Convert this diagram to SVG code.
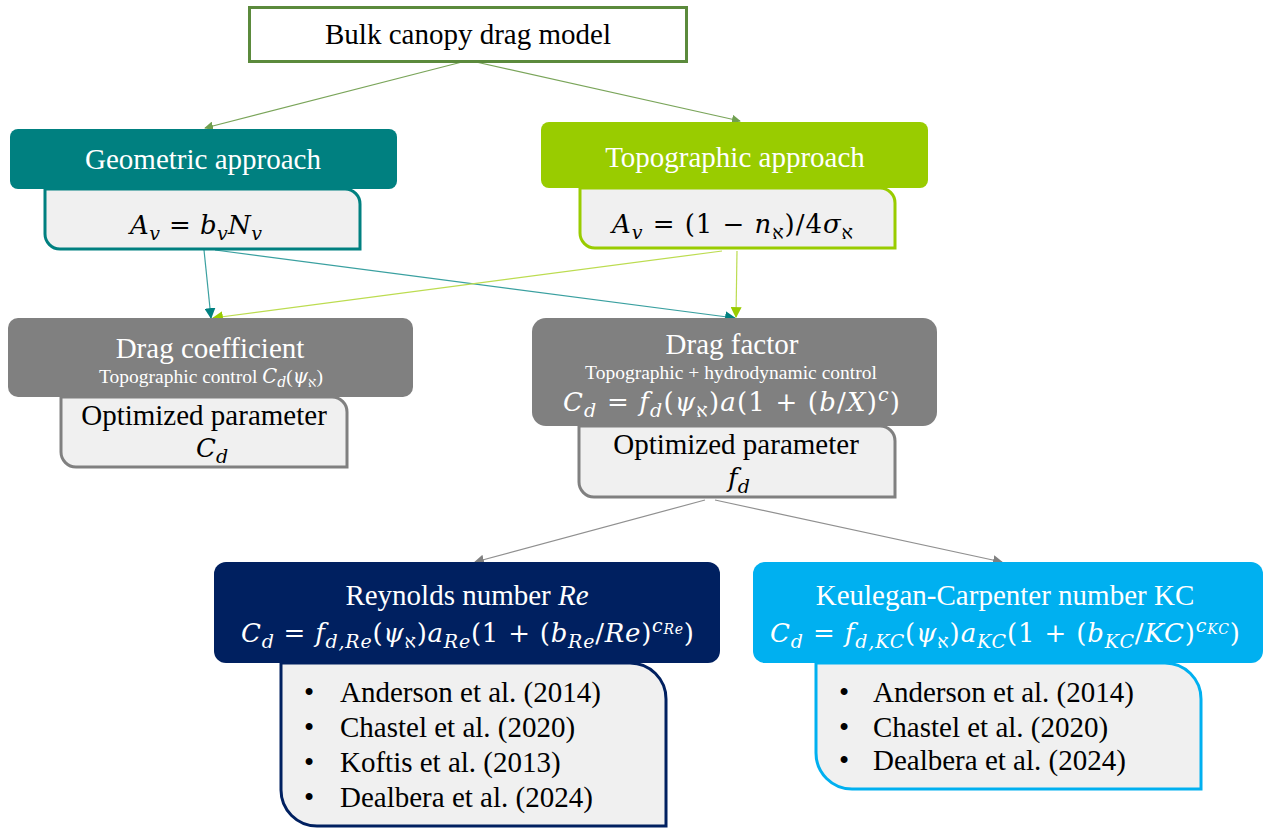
<svg xmlns="http://www.w3.org/2000/svg" width="1263" height="830" viewBox="0 0 1263 830">
<style>
text{font-family:"Liberation Serif","Times New Roman",serif;}
.t{font-size:29px;text-anchor:middle;}
.w{fill:#ffffff;}
.k{fill:#000000;}
.sm{font-size:19.5px;}
.i{font-style:italic;}
.m{font-family:"DejaVu Serif",serif;font-size:26px;}
.li{font-size:29px;fill:#000000;}
.c{fill:none;stroke-width:1.2;}
</style>
<defs>
<marker id="mg" viewBox="0 0 10 10" refX="9" refY="5" markerWidth="9" markerHeight="9" markerUnits="userSpaceOnUse" orient="auto"><path d="M0,0 L10,5 L0,10 Z" fill="#70a050"/></marker>
<marker id="mt" viewBox="0 0 10 10" refX="9" refY="5" markerWidth="11" markerHeight="11" markerUnits="userSpaceOnUse" orient="auto"><path d="M0,0 L10,5 L0,10 Z" fill="#008080"/></marker>
<marker id="ml" viewBox="0 0 10 10" refX="9" refY="5" markerWidth="11" markerHeight="11" markerUnits="userSpaceOnUse" orient="auto"><path d="M0,0 L10,5 L0,10 Z" fill="#99cc00"/></marker>
<marker id="mk" viewBox="0 0 10 10" refX="9" refY="5" markerWidth="10" markerHeight="10" markerUnits="userSpaceOnUse" orient="auto"><path d="M0,0 L10,5 L0,10 Z" fill="#808080"/></marker>
</defs>
<rect width="1263" height="830" fill="#ffffff"/>

<g id="connectors">
<line class="c" x1="462" y1="62" x2="205" y2="128" stroke="#7aa55a" marker-end="url(#mg)"/>
<line class="c" x1="476" y1="62" x2="740" y2="121" stroke="#7aa55a" marker-end="url(#mg)"/>
<line class="c" x1="204" y1="250" x2="211" y2="318" stroke="#3aa0a0" marker-end="url(#mt)"/>
<line class="c" x1="215" y1="250" x2="735" y2="318" stroke="#3aa0a0" marker-end="url(#mt)"/>
<line class="c" x1="722" y1="251" x2="213" y2="318" stroke="#bcdc50" marker-end="url(#ml)"/>
<line class="c" x1="737" y1="251" x2="736" y2="317" stroke="#bcdc50" marker-end="url(#ml)"/>
<line class="c" x1="705" y1="500" x2="475" y2="562" stroke="#909090" marker-end="url(#mk)"/>
<line class="c" x1="715" y1="500" x2="1002" y2="562" stroke="#909090" marker-end="url(#mk)"/>
</g>

<g id="bulk">
<rect x="249.5" y="7.5" width="437" height="54" fill="#ffffff" stroke="#5b8a3c" stroke-width="3"/>
<text class="t k" x="468" y="44">Bulk canopy drag model</text>
</g>

<g id="geometric">
<path d="M45,189 H345 A15,15 0 0 1 360,204 V249 H60 A15,15 0 0 1 45,234 Z" fill="#f0f0f0" stroke="#008080" stroke-width="3"/>
<rect x="10" y="129" width="387" height="60" rx="8" fill="#008080"/>
<text class="t w" x="203" y="169">Geometric approach</text>
<text class="m k" x="130" y="234" textLength="132" lengthAdjust="spacing"><tspan class="i">A</tspan><tspan class="i" font-size="19" dy="6">v</tspan><tspan dy="-6"> = </tspan><tspan class="i">b</tspan><tspan class="i" font-size="19" dy="6">v</tspan><tspan class="i" dy="-6">N</tspan><tspan class="i" font-size="19" dy="6">v</tspan></text>
</g>

<g id="topographic">
<path d="M580,188 H880 A15,15 0 0 1 895,203 V248 H595 A15,15 0 0 1 580,233 Z" fill="#f0f0f0" stroke="#99cc00" stroke-width="3"/>
<rect x="541" y="122" width="387" height="66" rx="8" fill="#99cc00"/>
<text class="t w" x="735" y="167">Topographic approach</text>
<text class="m k" x="612" y="233" textLength="241" lengthAdjust="spacing"><tspan class="i">A</tspan><tspan class="i" font-size="19" dy="6">v</tspan><tspan dy="-6"> = (1 − </tspan><tspan class="i">n</tspan><tspan font-size="19" dy="6">א</tspan><tspan dy="-6">)/4</tspan><tspan class="i">σ</tspan><tspan font-size="19" dy="6">א</tspan></text>
</g>

<g id="drag-coefficient">
<path d="M61,397 H332 A15,15 0 0 1 347,412 V467 H76 A15,15 0 0 1 61,452 Z" fill="#f0f0f0" stroke="#808080" stroke-width="3"/>
<rect x="8" y="318" width="405" height="79" rx="10" fill="#808080"/>
<text class="t w" x="210" y="358">Drag coefficient</text>
<text class="sm w" x="211" y="383" text-anchor="middle">Topographic control <tspan class="i" font-family="DejaVu Serif">C</tspan><tspan class="i" font-family="DejaVu Serif" font-size="14" dy="4">d</tspan><tspan dy="-4">(</tspan><tspan class="i" font-family="DejaVu Serif">ψ</tspan><tspan font-size="14" dy="4">א</tspan><tspan dy="-4">)</tspan></text>
<text class="t k" x="204" y="425">Optimized parameter</text>
<text class="m k i" x="196" y="457">C<tspan font-size="19" dy="6">d</tspan></text>
</g>

<g id="drag-factor">
<path d="M579,426 H880 A15,15 0 0 1 895,441 V497 H594 A15,15 0 0 1 579,482 Z" fill="#f0f0f0" stroke="#808080" stroke-width="3"/>
<rect x="532" y="318" width="405" height="108" rx="14" fill="#808080"/>
<text class="t w" x="732" y="354">Drag factor</text>
<text class="sm w" x="731" y="379" text-anchor="middle">Topographic +  hydrodynamic control</text>
<text class="m w" x="563" y="411" textLength="337" lengthAdjust="spacing"><tspan class="i">C</tspan><tspan class="i" font-size="19" dy="6">d</tspan><tspan dy="-6"> = </tspan><tspan class="i">f</tspan><tspan class="i" font-size="19" dy="6">d</tspan><tspan dy="-6">(</tspan><tspan class="i">ψ</tspan><tspan font-size="19" dy="6">א</tspan><tspan dy="-6">)</tspan><tspan class="i">a</tspan><tspan>(1 + (</tspan><tspan class="i">b</tspan><tspan>/</tspan><tspan class="i">X</tspan><tspan>)</tspan><tspan class="i" font-size="19" dy="-10">c</tspan><tspan dy="10">)</tspan></text>
<text class="t k" x="736" y="454">Optimized parameter</text>
<text class="m k i" x="728" y="487">f<tspan font-size="19" dy="6">d</tspan></text>
</g>

<g id="reynolds">
<path d="M281,663 H630 A36,36 0 0 1 666,699 V826 H317 A36,36 0 0 1 281,790 Z" fill="#f0f0f0" stroke="#002060" stroke-width="3"/>
<rect x="214" y="562" width="506" height="101" rx="12" fill="#002060"/>
<text class="t w" x="467" y="605">Reynolds number <tspan class="i">Re</tspan></text>
<text class="m w" x="241" y="642" textLength="453" lengthAdjust="spacing"><tspan class="i">C</tspan><tspan class="i" font-size="19" dy="6">d</tspan><tspan dy="-6"> = </tspan><tspan class="i">f</tspan><tspan class="i" font-size="19" dy="6">d,Re</tspan><tspan dy="-6">(</tspan><tspan class="i">ψ</tspan><tspan font-size="19" dy="6">א</tspan><tspan dy="-6">)</tspan><tspan class="i">a</tspan><tspan class="i" font-size="19" dy="6">Re</tspan><tspan dy="-6">(1 + (</tspan><tspan class="i">b</tspan><tspan class="i" font-size="19" dy="6">Re</tspan><tspan dy="-6">/</tspan><tspan class="i">Re</tspan><tspan>)</tspan><tspan class="i" font-size="19" dy="-10">c</tspan><tspan class="i" font-size="14" dy="2">Re</tspan><tspan dy="8">)</tspan></text>
<text class="li" x="304" y="702">•</text><text class="li" x="340" y="702">Anderson et al. (2014)</text>
<text class="li" x="304" y="737">•</text><text class="li" x="340" y="737">Chastel et al. (2020)</text>
<text class="li" x="304" y="772">•</text><text class="li" x="340" y="772">Koftis et al. (2013)</text>
<text class="li" x="304" y="807">•</text><text class="li" x="340" y="807">Dealbera et al. (2024)</text>
</g>

<g id="keulegan-carpenter">
<path d="M816,663 H1165 A36,36 0 0 1 1201,699 V789 H852 A36,36 0 0 1 816,753 Z" fill="#f0f0f0" stroke="#00b0f0" stroke-width="3"/>
<rect x="753" y="562" width="510" height="101" rx="12" fill="#00b0f0"/>
<text class="t w" x="1005" y="605">Keulegan-Carpenter number KC</text>
<text class="m w" x="770" y="642" textLength="470" lengthAdjust="spacing"><tspan class="i">C</tspan><tspan class="i" font-size="19" dy="6">d</tspan><tspan dy="-6"> = </tspan><tspan class="i">f</tspan><tspan class="i" font-size="19" dy="6">d,KC</tspan><tspan dy="-6">(</tspan><tspan class="i">ψ</tspan><tspan font-size="19" dy="6">א</tspan><tspan dy="-6">)</tspan><tspan class="i">a</tspan><tspan class="i" font-size="19" dy="6">KC</tspan><tspan dy="-6">(1 + (</tspan><tspan class="i">b</tspan><tspan class="i" font-size="19" dy="6">KC</tspan><tspan dy="-6">/</tspan><tspan class="i">KC</tspan><tspan>)</tspan><tspan class="i" font-size="19" dy="-10">c</tspan><tspan class="i" font-size="14" dy="2">KC</tspan><tspan dy="8">)</tspan></text>
<text class="li" x="839" y="702">•</text><text class="li" x="873" y="702">Anderson et al. (2014)</text>
<text class="li" x="839" y="737">•</text><text class="li" x="873" y="737">Chastel et al. (2020)</text>
<text class="li" x="839" y="770">•</text><text class="li" x="873" y="770">Dealbera et al. (2024)</text>
</g>
</svg>
